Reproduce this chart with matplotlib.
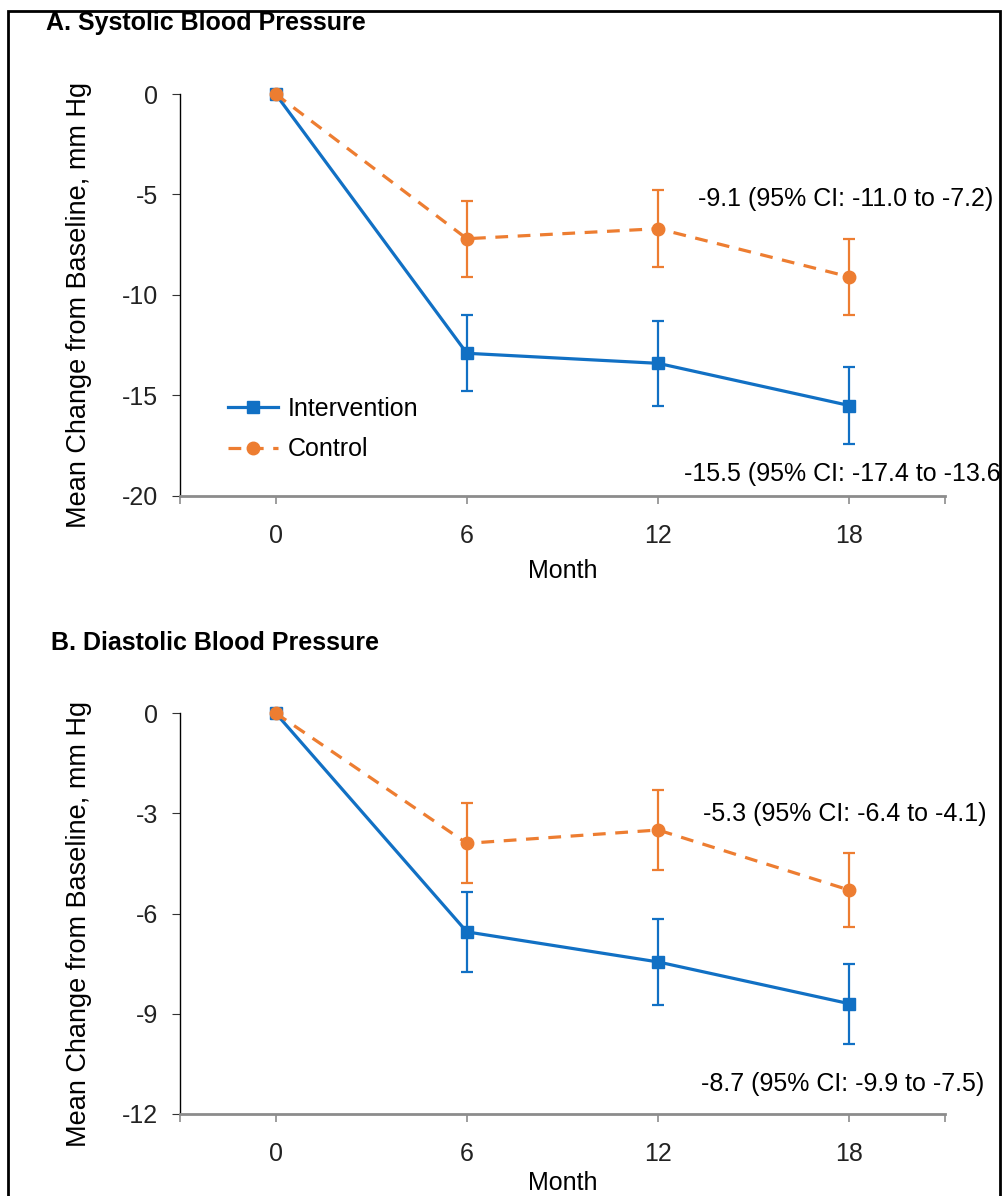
import matplotlib.pyplot as plt
from matplotlib.patches import Rectangle
from matplotlib.lines import Line2D

plt.rcParams['font.family'] = ['Liberation Sans', 'DejaVu Sans']
plt.rcParams['axes.unicode_minus'] = False

months = [0, 6, 12, 18]

# panel A: systolic
sys_int = [0, -12.9, -13.4, -15.5]
sys_int_err = [0, 1.9, 2.1, 1.9]
sys_ctl = [0, -7.2, -6.7, -9.1]
sys_ctl_err = [0, 1.9, 1.9, 1.9]

# panel B: diastolic
dia_int = [0, -6.55, -7.45, -8.7]
dia_int_err = [0, 1.2, 1.3, 1.2]
dia_ctl = [0, -3.9, -3.5, -5.3]
dia_ctl_err = [0, 1.2, 1.2, 1.1]

BLUE = '#1170C4'
ORANGE = '#ED7D31'
GREY = '#8C8C8C'
FS = 18

fig = plt.figure(figsize=(10.05, 11.96), dpi=100)
fig.patches.append(Rectangle((0.008, -0.05), 0.987, 1.041, transform=fig.transFigure,
                             fill=False, edgecolor='black', linewidth=2))


def panel(rect, title, title_xy, iv, ive, cv, cve, ylim, yticks, notes,
          legend=False, xlabelpad=8):
    ax = fig.add_axes(rect)
    ax.errorbar(months, iv, yerr=ive, color=BLUE, lw=2.3, marker='s', ms=8,
                capsize=4.5, elinewidth=1.6, capthick=1.6,
                clip_on=False, zorder=3)
    ax.errorbar(months, cv, yerr=cve, color=ORANGE, lw=2.3, ls=(0, (4, 3)), marker='o', ms=9,
                capsize=4.5, elinewidth=1.6, capthick=1.6,
                clip_on=False, zorder=4)
    ax.set_xlim(-3, 21)
    ax.set_ylim(*ylim)
    ax.set_xticks(months)
    ax.set_xticks([-3, 21], minor=True)
    ax.set_yticks(yticks)
    ax.tick_params(axis='both', labelsize=FS, colors='#222222')
    ax.tick_params(axis='x', which='both', length=6, color=GREY, width=1.2, pad=14)
    ax.tick_params(axis='y', length=6, color='#333333', pad=10)
    for s in ['top', 'right']:
        ax.spines[s].set_visible(False)
    ax.spines['bottom'].set_color(GREY)
    ax.spines['bottom'].set_linewidth(2)
    ax.spines['left'].set_linewidth(1)
    ax.set_xlabel('Month', fontsize=FS, labelpad=xlabelpad)
    ax.set_ylabel('Mean Change from Baseline, mm Hg', fontsize=19.5)
    ax.yaxis.set_label_coords(-0.115, 0.475)
    for x, y, t in notes:
        ax.text(x, y, t, fontsize=FS, va='center', ha='left', clip_on=False)
    fig.text(title_xy[0], title_xy[1], title, fontsize=FS, fontweight='bold', va='center')
    if legend:
        handles = [Line2D([], [], color=BLUE, lw=2.3, marker='s', ms=8),
                   Line2D([], [], color=ORANGE, lw=2.3, ls=(0, (4, 3)), marker='o', ms=9)]
        ax.legend(handles, ['Intervention', 'Control'], loc='lower left',
                  bbox_to_anchor=(0.033, 0.03), frameon=False, fontsize=FS,
                  handlelength=2.0, handletextpad=0.4, labelspacing=0.65)
    return ax


panel([0.1791, 0.5853, 0.7612, 0.3361], 'A. Systolic Blood Pressure', (0.046, 0.981),
      sys_int, sys_int_err, sys_ctl, sys_ctl_err, (-20, 0), [0, -5, -10, -15, -20],
      [(13.26, -5.2, '-9.1 (95% CI: -11.0 to -7.2)'),
       (12.8, -18.9, '-15.5 (95% CI: -17.4 to -13.6')], legend=True)

panel([0.1791, 0.0686, 0.7612, 0.3352], 'B. Diastolic Blood Pressure', (0.051, 0.462),
      dia_int, dia_int_err, dia_ctl, dia_ctl_err, (-12, 0), [0, -3, -6, -9, -12],
      [(13.4, -3.02, '-5.3 (95% CI: -6.4 to -4.1)'),
       (13.35, -11.1, '-8.7 (95% CI: -9.9 to -7.5)')], xlabelpad=4)

fig.savefig('out.png', dpi=100)
